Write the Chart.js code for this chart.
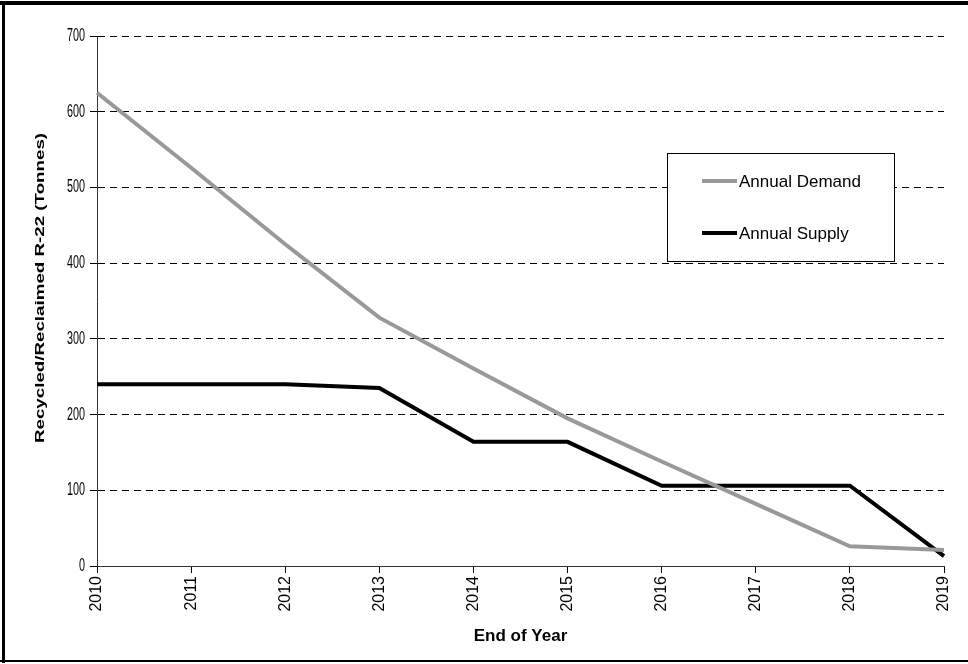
<!DOCTYPE html>
<html>
<head>
<meta charset="utf-8">
<script src="https://cdn.jsdelivr.net/npm/chart.js@4/dist/chart.umd.min.js"></script>
<style>
  html, body { margin: 0; padding: 0; background: #fff; }
  #wrap { position: relative; width: 968px; height: 664px; }
</style>
</head>
<body>
<div id="wrap"><canvas id="c" width="968" height="664"></canvas></div>
<script>
// Year-end categories
const years = ['2010', '2011', '2012', '2013', '2014', '2015', '2016', '2017', '2018', '2019'];
// Recycled/reclaimed R-22, tonnes per year
const annualDemand = [625, 526, 425, 328, 261, 195, 138, 82, 26, 21];
const annualSupply = [240, 240, 240, 235, 164, 164, 106, 106, 106, 13];
// Y-axis tick values
const yTicks = [0, 100, 200, 300, 400, 500, 600, 700];
const yTitle = 'Recycled/Reclaimed R-22 (Tonnes)';

const SANS = "'Liberation Sans', Arial, sans-serif";

// White page with a black frame around the chart
const framePlugin = {
  id: 'frame',
  beforeDraw(chart) {
    const ctx = chart.ctx;
    ctx.save();
    ctx.fillStyle = '#fff';
    ctx.fillRect(0, 0, chart.width, chart.height);
    ctx.fillStyle = '#000';
    ctx.fillRect(0, 1, chart.width, 4);      // top
    ctx.fillRect(2, 1, 3, chart.height - 2); // left
    ctx.fillRect(0, 660, chart.width, 2);    // bottom
    ctx.restore();
  }
};

// Condensed value labels on the y axis and the stretched vertical axis title
const yLabelsPlugin = {
  id: 'yLabels',
  afterDraw(chart) {
    const ctx = chart.ctx;
    const scale = chart.scales.y;
    ctx.save();
    ctx.fillStyle = '#000';
    ctx.font = '18px ' + SANS;
    ctx.textAlign = 'right';
    ctx.textBaseline = 'middle';
    yTicks.forEach(v => {
      const py = scale.getPixelForValue(v);
      ctx.save();
      ctx.translate(scale.right - 12, py);
      ctx.scale(0.6, 1);
      ctx.fillText(String(v), 0, 0);
      ctx.restore();
    });
    // axis title, rotated and drawn long
    ctx.save();
    ctx.translate(41, 288);
    ctx.rotate(-Math.PI / 2);
    ctx.scale(1.5, 1);
    ctx.font = 'bold 12.5px ' + SANS;
    ctx.textAlign = 'center';
    ctx.textBaseline = 'middle';
    ctx.fillText(yTitle, 0, 0);
    ctx.restore();
    ctx.restore();
  }
};

// Boxed legend sitting inside the plot area
const boxLegendPlugin = {
  id: 'boxLegend',
  afterDatasetsDraw(chart) {
    const ctx = chart.ctx;
    const x = 667, y = 153, w = 227, h = 108;
    ctx.save();
    ctx.fillStyle = '#fff';
    ctx.fillRect(x, y, w, h);
    ctx.strokeStyle = '#000';
    ctx.lineWidth = 1;
    ctx.strokeRect(x + 0.5, y + 0.5, w, h);
    const rows = [y + 28, y + 80];
    chart.data.datasets.forEach((ds, i) => {
      const ry = rows[i];
      ctx.strokeStyle = ds.borderColor;
      ctx.lineWidth = 4;
      ctx.beginPath();
      ctx.moveTo(702, ry);
      ctx.lineTo(737, ry);
      ctx.stroke();
      ctx.fillStyle = '#000';
      ctx.font = '17px ' + SANS;
      ctx.textBaseline = 'middle';
      ctx.textAlign = 'left';
      ctx.fillText(ds.label, 739, ry + 1);
    });
    ctx.restore();
  }
};

new Chart(document.getElementById('c'), {
  type: 'line',
  data: {
    labels: years,
    datasets: [
      {
        label: 'Annual Demand',
        data: annualDemand,
        borderColor: '#999999',
        borderWidth: 4,
        pointRadius: 0,
        tension: 0,
        fill: false
      },
      {
        label: 'Annual Supply',
        data: annualSupply,
        borderColor: '#000000',
        borderWidth: 4,
        pointRadius: 0,
        tension: 0,
        fill: false
      }
    ]
  },
  options: {
    responsive: false,
    animation: false,
    devicePixelRatio: 1,
    layout: { padding: { top: 36, right: 24, left: 0, bottom: 0 } },
    plugins: {
      legend: { display: false },
      tooltip: { enabled: false }
    },
    scales: {
      x: {
        type: 'category',
        offset: false,
        afterFit(scale) { scale.height = 98; },
        grid: {
          drawOnChartArea: false,
          drawTicks: true,
          tickLength: 7,
          color: '#000'
        },
        border: { display: true, color: '#333', width: 1 },
        ticks: {
          minRotation: 90,
          maxRotation: 90,
          autoSkip: false,
          padding: 3,
          color: '#000',
          font: { family: SANS, size: 16 }
        },
        title: {
          display: true,
          text: 'End of Year',
          color: '#000',
          padding: { top: 0, bottom: 17 },
          font: { family: SANS, size: 17, weight: 'bold' }
        }
      },
      y: {
        min: 0,
        max: 700,
        afterFit(scale) { scale.width = 97; },
        afterBuildTicks(scale) { scale.ticks = yTicks.map(v => ({ value: v })); },
        grid: {
          color: '#000',
          lineWidth: 1,
          tickLength: 7,
          tickColor: '#000',
          tickBorderDash: []
        },
        border: { display: true, color: '#333', width: 1, dash: [7, 5] },
        ticks: { display: false }
      }
    }
  },
  plugins: [framePlugin, yLabelsPlugin, boxLegendPlugin]
});
</script>
</body>
</html>
